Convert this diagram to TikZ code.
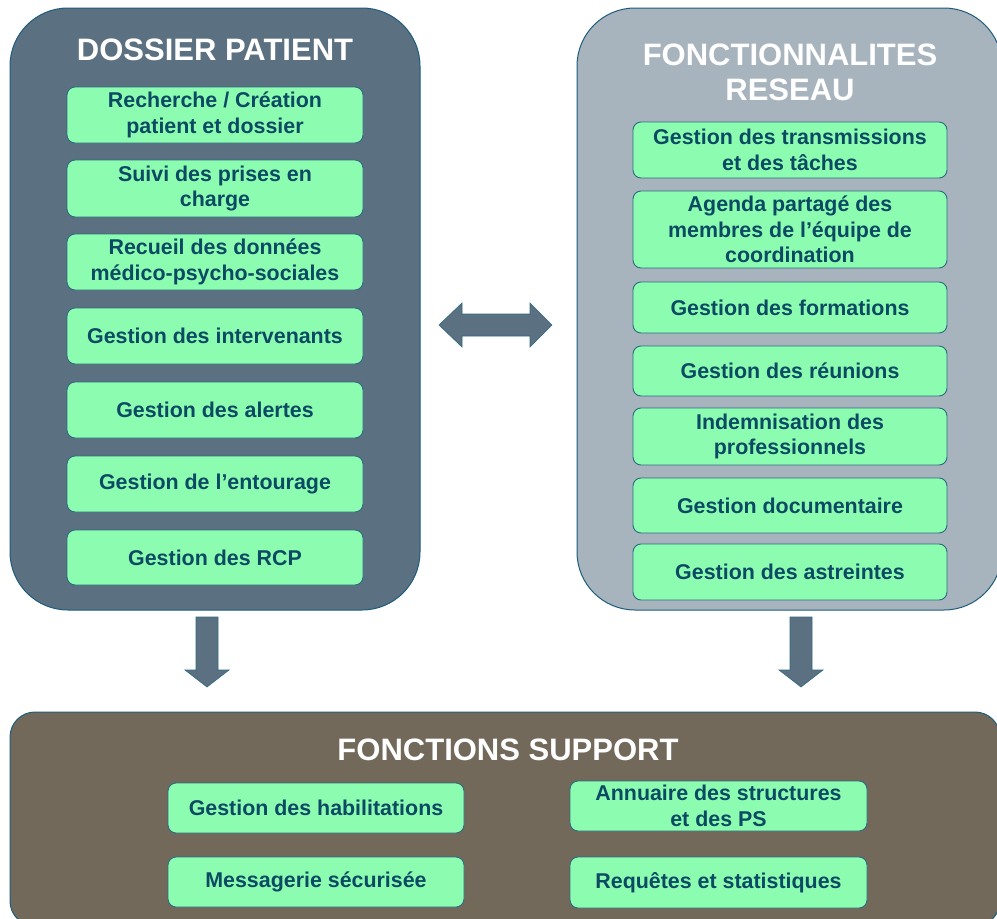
\documentclass[tikz,border=0pt]{standalone}
\usepackage{fontspec}
\setmainfont{Liberation Sans}

\definecolor{slateblue}{HTML}{5B7080}
\definecolor{greyblue}{HTML}{A7B3BD}
\definecolor{taupe}{HTML}{72695A}
\definecolor{frameline}{HTML}{1E5C7C}
\definecolor{mint}{HTML}{8CFDB0}
\definecolor{mintline}{HTML}{2D6A82}
\definecolor{inktext}{HTML}{0C4A64}

\tikzset{
  panel/.style={draw=frameline, line width=1pt, rounded corners=58pt, inner sep=0pt},
  title/.style={text=white, font=\bfseries\fontsize{31}{35}\selectfont, align=center},
  item/.style={draw=mintline, line width=0.9pt, fill=mint, rounded corners=8pt,
    text=inktext, font=\bfseries\fontsize{21.4}{25.5}\selectfont, align=center, inner sep=0pt},
  blockarrow/.style={fill=slateblue, draw=mintline, line width=0.6pt, line join=miter}
}

\begin{document}
\begin{tikzpicture}[x=1pt,y=-1pt]
\useasboundingbox (0,0) rectangle (997,919);
\begin{scope}
\clip (0,0) rectangle (997,919);

% ---- left panel: patient record ----
\node[panel, fill=slateblue, minimum width=410pt, minimum height=602pt] (dossier) at (215,309) {};
\node[title] (tdossier) at (215,50) {DOSSIER PATIENT};
\node[item, minimum width=296pt, minimum height=56pt] (d1) at (215,115) {Recherche / Création\\patient et dossier};
\node[item, minimum width=296pt, minimum height=57pt] (d2) at (215,188.5) {Suivi des prises en\\charge};
\node[item, minimum width=296pt, minimum height=56pt] (d3) at (215,262) {Recueil des données\\médico-psycho-sociales};
\node[item, minimum width=296pt, minimum height=56pt] (d4) at (215,336) {Gestion des intervenants};
\node[item, minimum width=296pt, minimum height=56pt] (d5) at (215,410) {Gestion des alertes};
\node[item, minimum width=296pt, minimum height=56pt] (d6) at (215,484) {Gestion de l’entourage};
\node[item, minimum width=296pt, minimum height=55pt] (d7) at (215,557.5) {Gestion des RCP};

% ---- right panel: network functions ----
\node[panel, fill=greyblue, minimum width=425pt, minimum height=602pt] (reseau) at (789.5,309) {};
\node[title] (treseau) at (790,72) {FONCTIONNALITES\\RESEAU};
\node[item, minimum width=314pt, minimum height=56pt] (r1) at (790,150) {Gestion des transmissions\\et des tâches};
\node[item, minimum width=314pt, minimum height=77pt] (r2) at (790,229.5) {Agenda partagé des\\membres de l’équipe de\\coordination};
\node[item, minimum width=314pt, minimum height=51pt] (r3) at (790,307.5) {Gestion des formations};
\node[item, minimum width=314pt, minimum height=50pt] (r4) at (790,371) {Gestion des réunions};
\node[item, minimum width=314pt, minimum height=57pt] (r5) at (790,436.5) {Indemnisation des\\professionnels};
\node[item, minimum width=314pt, minimum height=55pt] (r6) at (790,505.5) {Gestion documentaire};
\node[item, minimum width=314pt, minimum height=56pt] (r7) at (790,572) {Gestion des astreintes};

% ---- bottom panel: support functions ----
\node[panel, fill=taupe, rounded corners=25pt, minimum width=990pt, minimum height=214pt] (support) at (505,819) {};
\node[title] (tsupport) at (508,750) {FONCTIONS SUPPORT};
\node[item, minimum width=296pt, minimum height=50pt] (s1) at (316,808) {Gestion des habilitations};
\node[item, minimum width=297pt, minimum height=50pt] (s2) at (718.5,806) {Annuaire des structures\\et des PS};
\node[item, minimum width=296pt, minimum height=50pt] (s3) at (316,882) {Messagerie sécurisée};
\node[item, minimum width=297pt, minimum height=51pt] (s4) at (718.5,882.5) {Requêtes et statistiques};

% ---- block arrows between panels ----
% two-headed arrow linking the two upper panels
\draw[blockarrow] (439,325) -- (462,303) -- (462,314) -- (530,314) -- (530,303)
  -- (552,325) -- (530,347) -- (530,336) -- (462,336) -- (462,347) -- cycle;
% arrows down to the support panel
\draw[blockarrow] (196,617) -- (218,617) -- (218,670) -- (229,670) -- (207,687)
  -- (185,670) -- (196,670) -- cycle;
\draw[blockarrow] (790,617) -- (812,617) -- (812,670) -- (823,670) -- (801,687)
  -- (779,670) -- (790,670) -- cycle;
\end{scope}
\end{tikzpicture}
\end{document}
